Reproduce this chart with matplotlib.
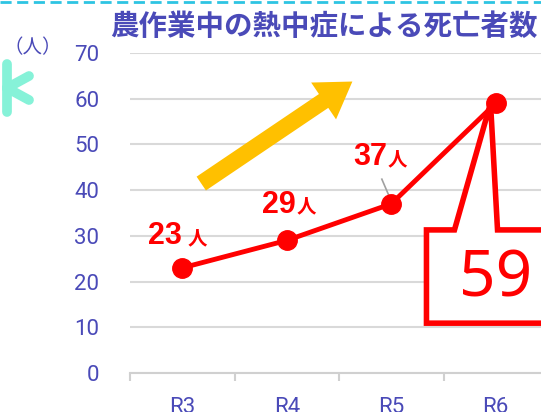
import matplotlib.pyplot as plt
from matplotlib.patches import Polygon
from matplotlib.lines import Line2D

years = ['R3', 'R4', 'R5', 'R6']
deaths = [23, 29, 37, 59]
title = '農作業中の熱中症による死亡者数'
blue = '#4a4ab8'
red = '#ff0000'
cjk = ['Noto Sans CJK JP', 'DejaVu Sans']

fig = plt.figure(figsize=(5.41, 4.12), dpi=100)
ax = fig.add_axes([130/541, 39/412, 418/541, 320/412])
x = list(range(len(years)))

ax.set_xlim(-0.5, 3.5)
ax.set_ylim(0, 70)
ax.set_yticks(range(0, 71, 10))
ax.grid(axis='y', color='#d9d9d9', lw=1.5)
ax.set_axisbelow(True)
for s in ['top', 'right', 'left']:
    ax.spines[s].set_visible(False)
ax.spines['bottom'].set_color('#d0d0d0')
ax.spines['bottom'].set_linewidth(1.5)
ax.set_xticks(x)
ax.set_xticklabels(years)
ax.set_xticks([-0.5, 0.5, 1.5, 2.5, 3.5], minor=True)
ax.tick_params(axis='x', which='major', length=0, pad=17, labelsize=16, labelcolor=blue)
ax.tick_params(axis='x', which='minor', length=6, width=1.5, color='#d0d0d0')
ax.tick_params(axis='y', length=0, pad=22, labelsize=16, labelcolor=blue)
for t in ax.get_xticklabels() + ax.get_yticklabels():
    t.set_fontfamily(['Roboto', 'DejaVu Sans'])

ax.plot(x, deaths, color=red, lw=3.5, marker='o', ms=14, zorder=4, clip_on=False)

# yellow arrow
ax.annotate('', xy=(1.65, 64.1), xytext=(0.16, 41.1),
            arrowprops=dict(arrowstyle='simple,head_width=3.2,head_length=2.5,tail_width=1.2',
                            color='#ffc000', mutation_scale=10, lw=0))

# value labels
offs = [(0, 17), (6.5, 20), (-3, 28)]
gaps = [4, 0.5, 0.5]
for i in range(3):
    ax.annotate(str(deaths[i]), (x[i], deaths[i]), xytext=(offs[i][0], offs[i][1]),
                textcoords='offset points', ha='right', va='baseline',
                color=red, fontsize=22, fontweight='bold', family=['Liberation Sans', 'DejaVu Sans'])
    ax.annotate('人', (x[i], deaths[i]), xytext=(offs[i][0] + gaps[i], offs[i][1]),
                textcoords='offset points', ha='left', va='baseline',
                color=red, fontsize=14, fontweight='bold', family=cjk)
ax.plot([1.91, 2.0], [42.4, 37.6], color='#a0a0a0', lw=1.2, zorder=3)

# callout for R6
callout = [(2.337, 10.9), (2.337, 31.3), (2.605, 31.3), (2.95, 59), (3.017, 31.3),
           (3.6, 31.3), (3.6, 10.9)]
ax.add_patch(Polygon(callout, closed=True, facecolor='white', edgecolor=red,
                     lw=4, zorder=5, clip_on=False, joinstyle='miter'))
ax.text(3.0, 20.5, str(deaths[3]), color=red, fontsize=46, ha='center', va='center',
        family=['Noto Sans', 'DejaVu Sans'], zorder=6)

# title and unit
fig.text(0.598, 0.935, title, color=blue, fontsize=20.5, fontweight='bold',
         ha='center', va='center', family=cjk)
fig.text(0.06, 0.885, '（人）', color=blue, fontsize=14, ha='center', va='center', family=cjk)

# cyan dashed line at top
fig.add_artist(Line2D([0, 1], [0.995, 0.995], color='#2ec4e2', lw=2, ls=(0, (4, 2))))

# teal asterisk at the left edge
cx, cy = 7/541, 1 - 88/412
for dx, dy in [(0, 24), (0, -24), (22, 12), (22, -12)]:
    fig.add_artist(Line2D([cx, cx + dx/541], [cy, cy + dy/412], color='#86f2d8',
                          lw=7, solid_capstyle='round'))

fig.savefig('out.png', dpi=100)
